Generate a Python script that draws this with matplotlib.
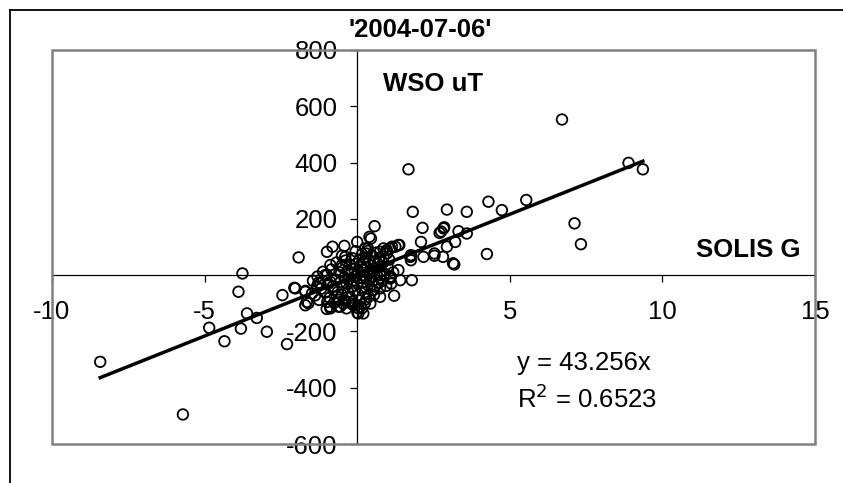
import matplotlib
matplotlib.use('Agg')
import matplotlib.pyplot as plt
from matplotlib.lines import Line2D
from matplotlib.patches import Rectangle
from matplotlib.ticker import FuncFormatter

plt.rcParams['font.family'] = ['Liberation Sans', 'DejaVu Sans']

# chart data
title = "'2004-07-06'"
x_name = 'SOLIS G'
y_name = 'WSO uT'
slope = 43.256
r2 = 0.6523

x_ticks = [-10, -5, 0, 5, 10, 15]
y_ticks = [-600, -400, -200, 0, 200, 400, 600, 800]

# outer points
x_out = [-8.42, -5.71, -4.35, -4.85, -3.61, -3.29, -3.81, -2.96, -2.30, -3.76,
         -3.89, -1.92, -2.45, -2.06, -1.70, -1.65, -1.70, -1.60, -1.21, 1.35,
         1.08, 1.41, 1.79, 1.21, 0.75, 0.10, -0.10, 0.20, 1.68, 1.82,
         2.94, 3.59, 2.14, 2.09, 0.57, 0.45, 0.40, 0.00, -0.42, -0.81,
         -0.99, -0.50, -0.88, 2.83, 2.75, 2.70, 3.32, 3.59, 2.94, 3.21,
         2.53, 2.53, 2.81, 3.14, 3.18, 1.76, 1.76, 1.35, 1.25, 1.08,
         0.97, 0.86, 0.75, 1.08, 0.75, 0.75, 6.71, 8.89, 9.36, 7.12,
         7.33, 4.30, 4.74, 5.54, 4.25, 2.85, 2.17, 1.74, -0.88, -0.56,
         -0.45, -0.67, -0.78, -0.88, -0.99, -1.32, -1.48, 0.43, 0.75, 0.53,
         0.04, -2.03, -1.70, -1.27, -0.88, -0.17, 0.15, 0.04, 0.37, 1.14,
         0.86, 0.97, 0.26, 0.34, 0.29, -0.39, -0.50, -1.05, 1.10, 1.38]
y_out = [-308, -495, -235, -187, -136, -152, -190, -201, -245, 6,
         -59, 63, -71, -45, -59, -95, -107, -100, -30, 18,
         -12, -18, -18, -73, -47, -112, -107, -136, 376, 225,
         233, 225, 168, 118, 174, 130, 136, 118, 104, 101,
         83, 69, 36, 166, 155, 150, 156, 148, 101, 118,
         77, 69, 65, 42, 38, 71, 53, 107, 101, 95,
         89, 95, 83, -6, 0, 30, 553, 399, 376, 184,
         110, 261, 231, 267, 75, 170, 65, 65, -112, -112,
         -101, -77, -53, -24, 0, -41, -65, -101, -77, -53,
         -118, -47, -56, -27, -118, -103, -118, -136, -77, 101,
         65, 77, 95, 86, 77, 65, 36, 0, -6, 107]

# dense core near the origin
x_core = [-1.45, -1.38, -1.30, -1.25, -1.18, -1.12, -1.05, -0.98, -0.95, -0.90,
          -0.85, -0.80, -0.76, -0.72, -0.68, -0.64, -0.60, -0.58, -0.55, -0.50,
          -0.48, -0.45, -0.42, -0.40, -0.38, -0.35, -0.32, -0.30, -0.28, -0.25,
          -0.22, -0.20, -0.18, -0.15, -0.12, -0.10, -0.08, -0.05, -0.03, 0.00,
          0.02, 0.05, 0.07, 0.10, 0.12, 0.14, 0.16, 0.18, 0.20, 0.22,
          0.24, 0.26, 0.28, 0.30, 0.32, 0.35, 0.38, 0.40, 0.42, 0.45,
          0.48, 0.50, 0.52, 0.55, 0.58, 0.60, 0.62, 0.65, 0.68, 0.70,
          0.72, 0.78, 0.82, 0.85, 0.90, 0.95, 1.00, 1.05, 1.12, 1.18,
          -0.15, 0.08, 0.30, -0.62, -0.35, 0.25, -1.00, 0.55, -0.05, 0.35]
y_core = [-20, -72, -5, -88, -48, 12, -62, -95, -30, -80,
          20, -40, -98, -15, 45, -60, -88, 10, -25, -70,
          28, -45, -8, -90, 52, -30, 15, -60, -15, 38,
          -80, 5, -40, 60, -20, 22, -55, -5, 40, -30,
          12, -70, 55, -10, 30, -45, 75, 0, -25, 45,
          18, -60, 62, -8, 28, -35, 50, 8, -15, 35,
          70, -20, 15, 48, -40, 25, 80, 0, 40, -28,
          60, 15, -20, 45, 5, -38, 30, 55, -30, 10,
          -95, -90, -85, -112, -118, -100, -120, -70, 85, 95]

x_vals = x_out + x_core
y_vals = y_out + y_core

W, H = 843, 483
fig = plt.figure(figsize=(W / 100, H / 100), dpi=100)
ax = fig.add_axes([52 / W, 1 - 444 / H, (815 - 52) / W, (444 - 50) / H])
ax.set_xlim(-10, 15)
ax.set_ylim(-600, 800)

ax.scatter(x_vals, y_vals, s=58, facecolors='none', edgecolors='black',
           linewidths=1.3, zorder=3)
x0, x1 = min(x_vals), max(x_vals)
ax.plot([x0, x1], [slope * x0, slope * x1], color='black', lw=2.5, zorder=4)

# axes cross at zero, grey box around the plot area
for side in ['top', 'right']:
    ax.spines[side].set_visible(False)
ax.spines['left'].set_position('zero')
ax.spines['bottom'].set_position('zero')
for side in ['left', 'bottom']:
    ax.spines[side].set_linewidth(0.9)
    ax.spines[side].set_color('black')
ax.add_patch(Rectangle((0, 0), 1, 1, transform=ax.transAxes, fill=False,
                       ec='#808080', lw=1.8, clip_on=False, zorder=5))

ax.set_xticks(x_ticks)
ax.set_yticks(y_ticks)
ax.xaxis.set_major_formatter(FuncFormatter(lambda v, p: '%d' % v))
ax.yaxis.set_major_formatter(FuncFormatter(lambda v, p: '' if v == 0 else '%d' % v))
ax.tick_params(direction='out', length=5, width=0.9, labelsize=18.5)
ax.tick_params(axis='x', pad=13)
ax.tick_params(axis='y', pad=9)

fig.text(420 / W, 1 - 37 / H, title, ha='center', va='baseline',
         fontsize=18.5, fontweight='bold')
fig.text(383 / W, 1 - 91 / H, y_name, ha='left', va='baseline',
         fontsize=18.5, fontweight='bold')
fig.text(801 / W, 1 - 257 / H, x_name, ha='right', va='baseline',
         fontsize=18.5, fontweight='bold')
fig.text(517 / W, 1 - 370 / H, 'y = %.3fx' % slope, ha='left', va='baseline',
         fontsize=18.5)
fig.text(517 / W, 1 - 408 / H, 'R$^2$ = %.4f' % r2, ha='left', va='baseline',
         fontsize=18.5)

# outer chart frame (left and top edges visible)
fig.add_artist(Line2D([10 / W, 10 / W], [0, 1 - 10 / H], color='black', lw=1.3,
                      transform=fig.transFigure))
fig.add_artist(Line2D([10 / W, 1], [1 - 10 / H, 1 - 10 / H], color='black', lw=1.3,
                      transform=fig.transFigure))

fig.savefig('out.png', dpi=100)
